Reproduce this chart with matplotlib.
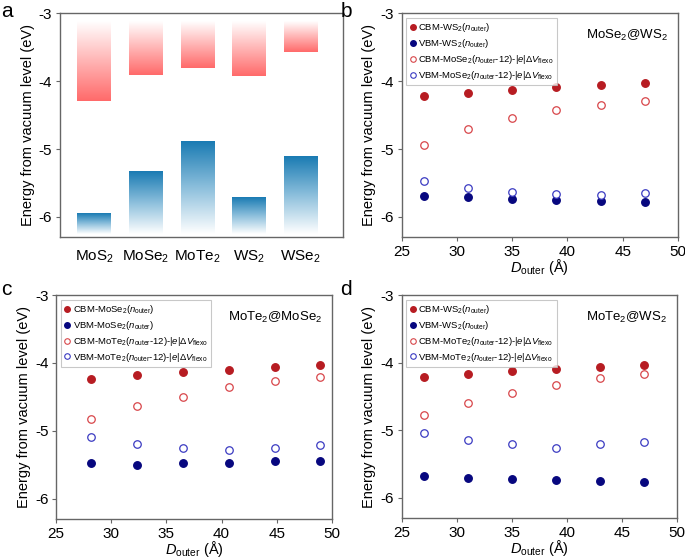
import numpy as np
import matplotlib
matplotlib.use("Agg")
import matplotlib.pyplot as plt
from matplotlib.colors import LinearSegmentedColormap
from matplotlib.lines import Line2D

plt.rcParams['font.family'] = ['Liberation Sans', 'DejaVu Sans']
plt.rcParams['mathtext.fontset'] = 'custom'
plt.rcParams['mathtext.rm'] = 'Liberation Sans'
plt.rcParams['mathtext.it'] = 'Liberation Sans:italic'
plt.rcParams['mathtext.bf'] = 'Liberation Sans:bold'

# ---- Panel a data ----
materials = [r'MoS$_2$', r'MoSe$_2$', r'MoTe$_2$', r'WS$_2$', r'WSe$_2$']
cbm = [-4.29, -3.915, -3.81, -3.925, -3.575]
vbm = [-5.95, -5.335, -4.88, -5.71, -5.11]
bar_top = -3.12
bar_bottom = -6.25

# ---- Panel b data ----
x_b = [27, 31, 35, 39, 43, 47]
b_cbm_out = [-4.215, -4.17, -4.127, -4.09, -4.06, -4.03]
b_vbm_out = [-5.69, -5.71, -5.73, -5.75, -5.76, -5.775]
b_cbm_in = [-4.94, -4.70, -4.54, -4.42, -4.35, -4.29]
b_vbm_in = [-5.47, -5.57, -5.63, -5.665, -5.675, -5.645]

# ---- Panel c data ----
x_c = [28.2, 32.3, 36.5, 40.7, 44.8, 48.9]
c_cbm_out = [-4.234, -4.18, -4.13, -4.10, -4.06, -4.027]
c_vbm_out = [-5.48, -5.51, -5.48, -5.47, -5.45, -5.44]
c_cbm_in = [-4.83, -4.64, -4.50, -4.36, -4.26, -4.20]
c_vbm_in = [-5.09, -5.19, -5.25, -5.29, -5.25, -5.21]

# ---- Panel d data ----
x_d = [27, 31, 35, 39, 43, 47]
d_cbm_out = [-4.21, -4.17, -4.125, -4.095, -4.065, -4.03]
d_vbm_out = [-5.685, -5.705, -5.72, -5.74, -5.75, -5.765]
d_cbm_in = [-4.78, -4.60, -4.45, -4.325, -4.23, -4.17]
d_vbm_in = [-5.04, -5.145, -5.20, -5.26, -5.20, -5.175]

RED = '#b71c22'
NAVY = '#07077f'
ORED = '#d8464a'
OBLUE = '#3b3bc2'
SPINE = '#666666'

fig = plt.figure(figsize=(6.85, 5.58), dpi=100)

def style_axes(ax):
    for s in ax.spines.values():
        s.set_color(SPINE)
        s.set_linewidth(1.0)
    ax.tick_params(axis='both', labelsize=11, color=SPINE, length=3, width=0.8,
                   direction='out', pad=2.5)
    ax.set_ylim(-6.3, -3)
    ax.set_yticks([-6, -5, -4, -3])
    ax.set_yticklabels(['-6', '-5', '-4', '-3'])
    ax.set_ylabel('Energy from vacuum level (eV)', fontsize=10.5, labelpad=3)

# ---- Panel a ----
ax_a = fig.add_axes([0.0876, 0.575, 0.4131, 0.401])
style_axes(ax_a)
red_cmap = LinearSegmentedColormap.from_list('r', ['#ffffff', '#ffb4b4', '#ff6a6a'])
blue_cmap = LinearSegmentedColormap.from_list('b', ['#ffffff', '#8cbfdc', '#1a7bb3'])
grad = np.linspace(0, 1, 256).reshape(-1, 1)
w = 0.65
for i, (c, v) in enumerate(zip(cbm, vbm)):
    # conduction band: white at top -> red at bottom (CBM)
    ax_a.imshow(grad, cmap=red_cmap, aspect='auto',
                extent=[i - w / 2, i + w / 2, c, bar_top], zorder=2)
    # valence band: blue at top (VBM) -> white at bottom
    ax_a.imshow(grad[::-1], cmap=blue_cmap, aspect='auto',
                extent=[i - w / 2, i + w / 2, bar_bottom, v], zorder=2)
ax_a.set_xlim(-0.66, 4.82)
ax_a.set_ylim(-6.3, -3)
ax_a.set_xticks(range(len(materials)))
ax_a.set_xticklabels(materials, fontsize=11)
ax_a.tick_params(axis='x', length=0, pad=8)
fig.text(0.002, 0.997, 'a', fontsize=15, va='top', ha='left')

def scatter_panel(ax, x, co, vo, ci, vi, outer, inner, title):
    style_axes(ax)
    ax.plot(x, co, 'o', color=RED, ms=5.4, ls='none', zorder=3)
    ax.plot(x, vo, 'o', color=NAVY, ms=5.4, ls='none', zorder=3)
    ax.plot(x, ci, 'o', mfc='white', mec=ORED, mew=0.9, ms=5.4, ls='none', zorder=3)
    ax.plot(x, vi, 'o', mfc='white', mec=OBLUE, mew=0.9, ms=5.4, ls='none', zorder=3)
    ax.set_xlim(25, 50)
    ax.set_xticks([25, 30, 35, 40, 45, 50])
    ax.set_xlabel(r'$D_{\rm outer}$ (Å)', fontsize=10.5, labelpad=-1)
    handles = [
        Line2D([], [], marker='o', color=RED, ls='none', ms=4),
        Line2D([], [], marker='o', color=NAVY, ls='none', ms=4),
        Line2D([], [], marker='o', mfc='white', mec=ORED, mew=0.8, ls='none', ms=4),
        Line2D([], [], marker='o', mfc='white', mec=OBLUE, mew=0.8, ls='none', ms=4),
    ]
    labels = [
        'CBM-' + outer + r'($n_{\rm outer}$)',
        'VBM-' + outer + r'($n_{\rm outer}$)',
        'CBM-' + inner + r'($n_{\rm outer}$-12)-|$e$|$\Delta V_{\rm flexo}$',
        'VBM-' + inner + r'($n_{\rm outer}$-12)-|$e$|$\Delta V_{\rm flexo}$',
    ]
    leg = ax.legend(handles, labels, loc='upper left', fontsize=6.8, frameon=True,
                    fancybox=False, edgecolor='#bbbbbb', handlelength=0.6,
                    handletextpad=0.3, borderpad=0.35, labelspacing=0.3,
                    borderaxespad=0.5, bbox_to_anchor=(0.0, 1.0))
    leg.get_frame().set_linewidth(0.8)
    ax.text(0.965, 0.935, title, transform=ax.transAxes, ha='right', va='top', fontsize=9.5)

ax_b = fig.add_axes([0.5864, 0.575, 0.4034, 0.401])
scatter_panel(ax_b, x_b, b_cbm_out, b_vbm_out, b_cbm_in, b_vbm_in,
              r'WS$_2$', r'MoSe$_2$', r'MoSe$_2$@WS$_2$')
fig.text(0.497, 0.997, 'b', fontsize=15, va='top', ha='left')

ax_c = fig.add_axes([0.0818, 0.070, 0.4029, 0.401])
scatter_panel(ax_c, x_c, c_cbm_out, c_vbm_out, c_cbm_in, c_vbm_in,
              r'MoSe$_2$', r'MoTe$_2$', r'MoTe$_2$@MoSe$_2$')
fig.text(0.002, 0.499, 'c', fontsize=15, va='top', ha='left')

ax_d = fig.add_axes([0.5864, 0.0717, 0.4019, 0.3993])
scatter_panel(ax_d, x_d, d_cbm_out, d_vbm_out, d_cbm_in, d_vbm_in,
              r'WS$_2$', r'MoTe$_2$', r'MoTe$_2$@WS$_2$')
fig.text(0.497, 0.499, 'd', fontsize=15, va='top', ha='left')

fig.savefig('out.png', dpi=100)
